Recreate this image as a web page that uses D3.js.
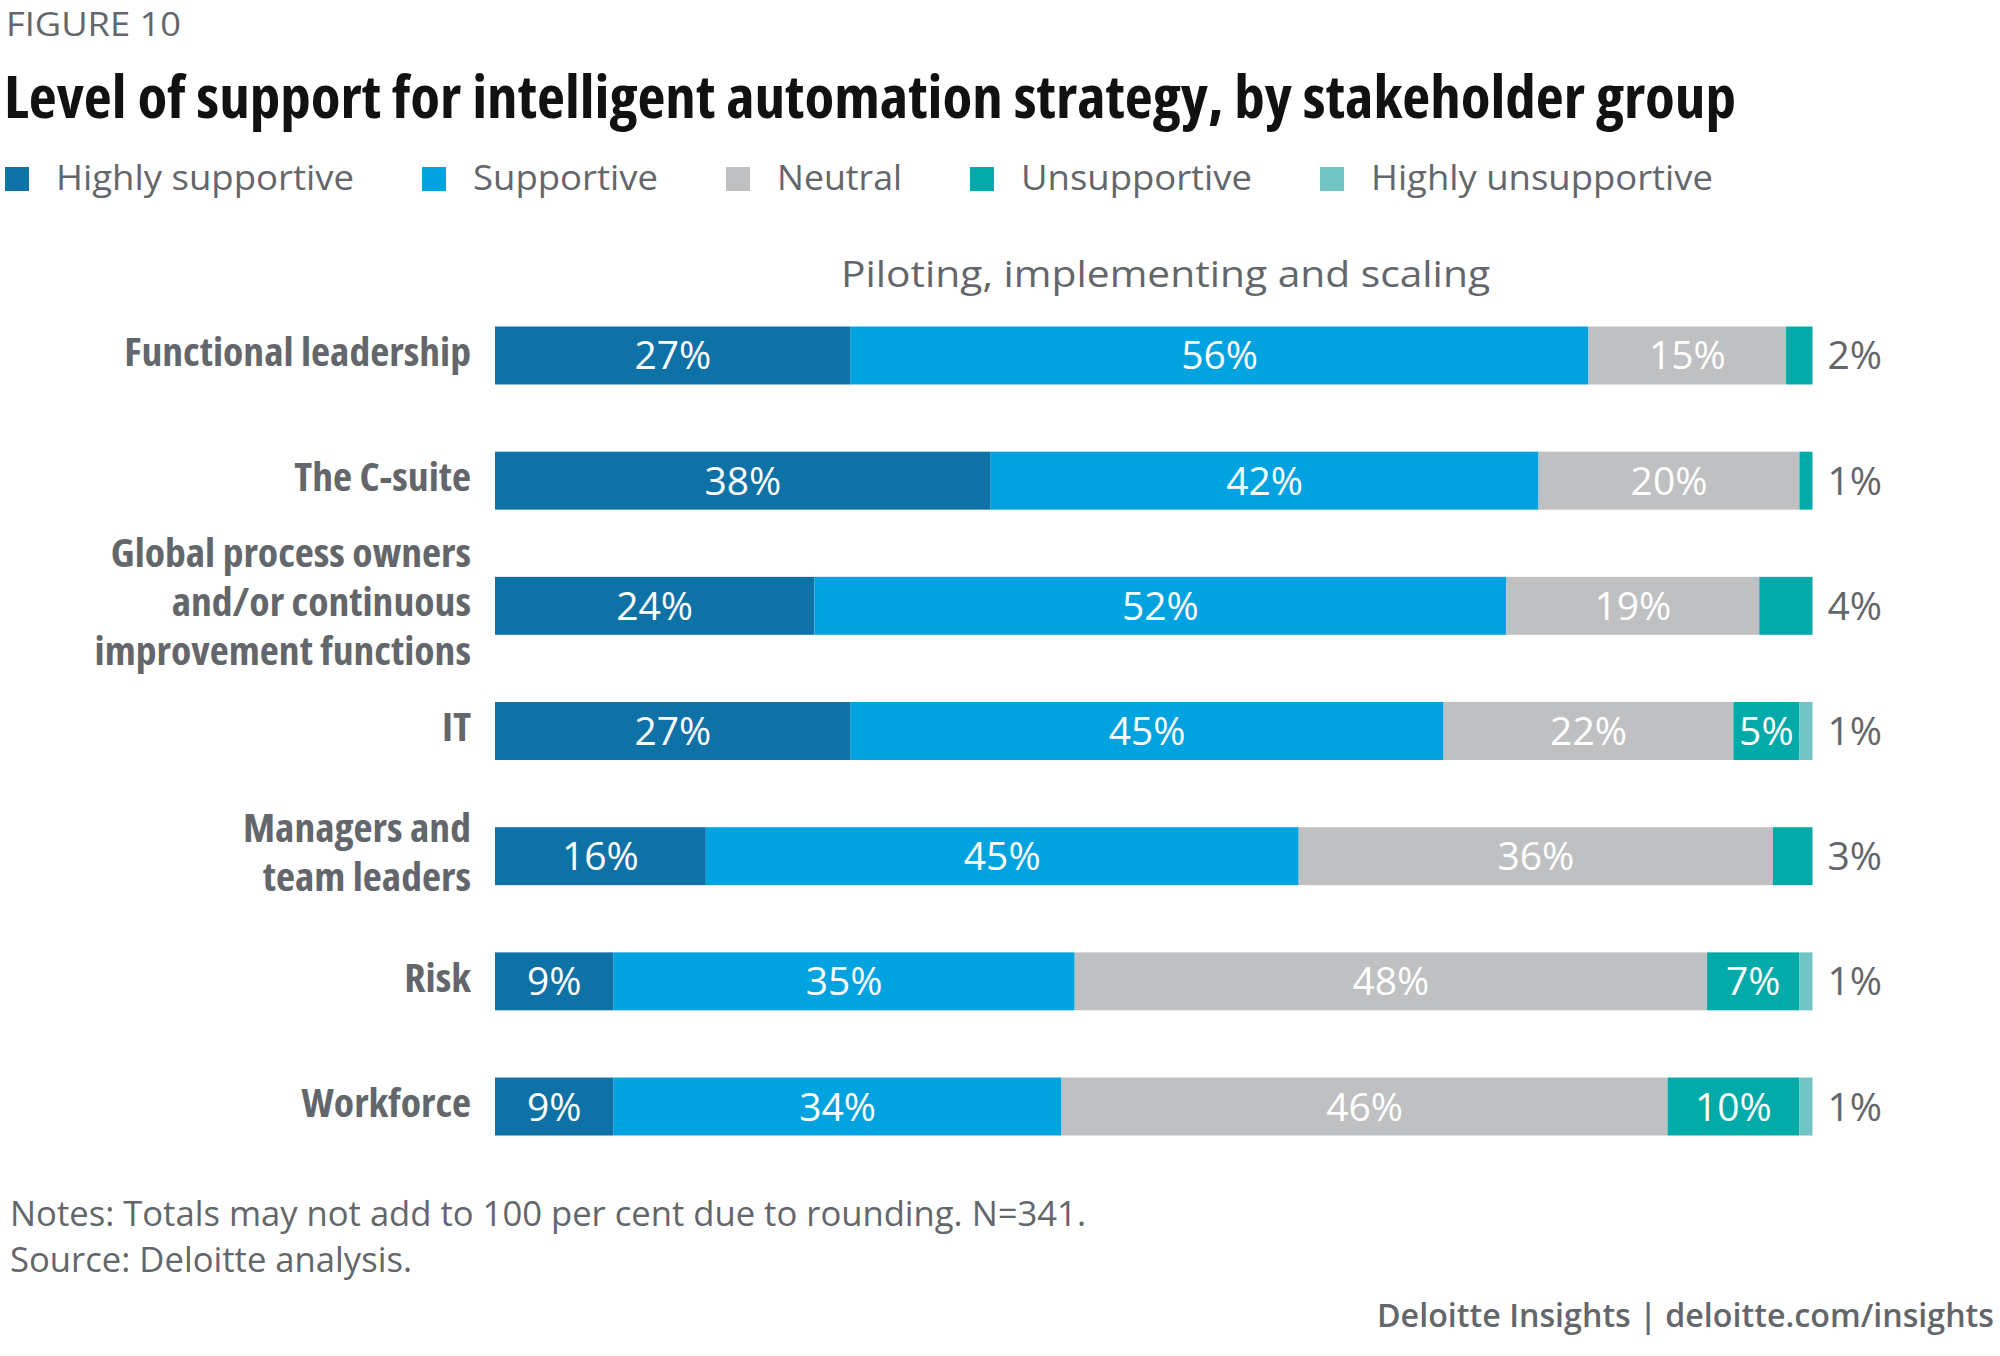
<!DOCTYPE html>
<html>
<head>
<meta charset="utf-8">
<script src="https://cdnjs.cloudflare.com/ajax/libs/d3/7.8.5/d3.min.js"></script>
<style>
  html, body { margin: 0; padding: 0; background: #fff; }
  svg { display: block; }
  text { font-family: "Open Sans", "Noto Sans", sans-serif; }
</style>
</head>
<body>
<svg id="chart" width="2000" height="1356"></svg>
<script>
// ---------- DATA ----------
const categories = [
  "Functional leadership",
  "The C-suite",
  "Global process owners and/or continuous improvement functions",
  "IT",
  "Managers and team leaders",
  "Risk",
  "Workforce"
];
const categoryLines = [
  ["Functional leadership"],
  ["The C-suite"],
  ["Global process owners", "and/or continuous", "improvement functions"],
  ["IT"],
  ["Managers and", "team leaders"],
  ["Risk"],
  ["Workforce"]
];
const seriesNames = ["Highly supportive", "Supportive", "Neutral", "Unsupportive", "Highly unsupportive"];
const highlySupportive   = [27, 38, 24, 27, 16, 9, 9];
const supportive         = [56, 42, 52, 45, 45, 35, 34];
const neutral            = [15, 20, 19, 22, 36, 48, 46];
const unsupportive       = [2, 1, 4, 5, 3, 7, 10];
const highlyUnsupportive = [0, 0, 0, 1, 0, 1, 1];
const seriesColors = ["#0e72a7", "#00a3e0", "#bfc0c2", "#00aaa8", "#72c3c3"];

const titleText = "Level of support for intelligent automation strategy, by stakeholder group";
const figureText = "FIGURE 10";
const subtitleText = "Piloting, implementing and scaling";
const notesText = "Notes: Totals may not add to 100 per cent due to rounding. N=341.";
const sourceText = "Source: Deloitte analysis.";
const footerText = "Deloitte Insights | deloitte.com/insights";

// ---------- BUILD ----------
const seriesValues = [highlySupportive, supportive, neutral, unsupportive, highlyUnsupportive];
const rows = categories.map((c, i) => {
  const r = { category: c };
  seriesNames.forEach((s, j) => r[s] = seriesValues[j][i]);
  return r;
});

const svg = d3.select("#chart");
const gray = "#63666a";

function fitWidth(sel, target) {
  sel.each(function () {
    const w = this.getComputedTextLength();
    if (w > 0) d3.select(this).attr("textLength", target).attr("lengthAdjust", "spacingAndGlyphs");
  });
}

// Header
svg.append("text").attr("x", 6).attr("y", 36)
  .attr("font-size", 33).attr("fill", gray).text(figureText)
  .call(fitWidth, 175);

svg.append("text").attr("x", 4).attr("y", 118)
  .attr("font-size", 59).attr("font-weight", 700).attr("fill", "#111")
  .style("font-stretch", "condensed")
  .text(titleText).call(fitWidth, 1732);

// Legend
const legendTargets = [298, 185, 125, 231, 342];
let lx = 5;
const legend = svg.append("g");
seriesNames.forEach((s, i) => {
  legend.append("rect").attr("x", lx).attr("y", 167).attr("width", 24).attr("height", 24)
    .attr("fill", seriesColors[i]);
  const t = legend.append("text").attr("x", lx + 51).attr("y", 190)
    .attr("font-size", 34).attr("fill", gray).text(s);
  t.call(fitWidth, legendTargets[i]);
  lx = lx + 51 + legendTargets[i] + 68;
});

// Subtitle
svg.append("text").attr("x", 841).attr("y", 287)
  .attr("font-size", 37).attr("fill", gray).text(subtitleText)
  .call(fitWidth, 649);

// Scales
const x = d3.scaleLinear().domain([0, 1]).range([495, 1812.5]);
const y = d3.scaleBand().domain(categories).range([292.9, 1169.1])
  .paddingInner(0.537).paddingOuter(0.537 / 2);

const stack = d3.stack().keys(seriesNames).offset(d3.stackOffsetExpand);
const stacked = stack(rows);

const color = d3.scaleOrdinal().domain(seriesNames).range(seriesColors);

const layers = svg.append("g").selectAll("g").data(stacked).join("g")
  .attr("fill", d => color(d.key));

layers.selectAll("rect").data(d => d.map(p => ({ p, key: d.key })))
  .join("rect")
  .attr("x", d => x(d.p[0]))
  .attr("y", d => y(d.p.data.category))
  .attr("width", d => Math.max(0, x(d.p[1]) - x(d.p[0])))
  .attr("height", y.bandwidth());

// Value labels: inside if >=5, otherwise outside to the right
const labelG = svg.append("g");
stacked.forEach(layer => {
  layer.forEach(p => {
    const v = p.data[layer.key];
    const cy = y(p.data.category) + y.bandwidth() / 2;
    if (v >= 5) {
      labelG.append("text")
        .attr("x", (x(p[0]) + x(p[1])) / 2)
        .attr("y", cy + 14)
        .attr("text-anchor", "middle")
        .attr("font-size", 39).attr("fill", "#fff")
        .text(v + "%");
    } else if (v > 0) {
      labelG.append("text")
        .attr("x", x(1) + 15)
        .attr("y", cy + 14)
        .attr("font-size", 39).attr("fill", gray)
        .text(v + "%");
    }
  });
});

// Category labels (one text element per category, tspans per line)
const catG = svg.append("g");
const labelX = 471;
const lh = 49;
// measure condensing ratio from first label
const probe = catG.append("text").attr("font-size", 40).attr("font-weight", 700)
  .style("font-stretch", "condensed").text(categoryLines[0][0]);
const ratio = 347 / probe.node().getComputedTextLength();
probe.remove();

categories.forEach((c, i) => {
  const lines = categoryLines[i];
  const cy = y(c) + y.bandwidth() / 2;
  const y0 = cy + 10.5 - (lines.length - 1) * lh / 2;
  const t = catG.append("text")
    .attr("text-anchor", "end")
    .attr("font-size", 40).attr("font-weight", 700).attr("fill", gray)
    .style("font-stretch", "condensed")
    .attr("transform", `translate(${labelX},0) scale(${ratio},1)`);
  lines.forEach((ln, k) => {
    t.append("tspan").attr("x", 0).attr("y", y0 + k * lh).text(ln);
  });
});

// Notes
svg.append("text").attr("x", 10).attr("y", 1226)
  .attr("font-size", 35).attr("fill", gray).text(notesText).call(fitWidth, 1076);
svg.append("text").attr("x", 10).attr("y", 1272)
  .attr("font-size", 35).attr("fill", gray).text(sourceText).call(fitWidth, 402);

// Footer
svg.append("text").attr("x", 1377).attr("y", 1327)
  .attr("font-size", 32).attr("font-weight", 600).attr("fill", gray)
  .text(footerText).call(fitWidth, 617);
</script>
</body>
</html>
